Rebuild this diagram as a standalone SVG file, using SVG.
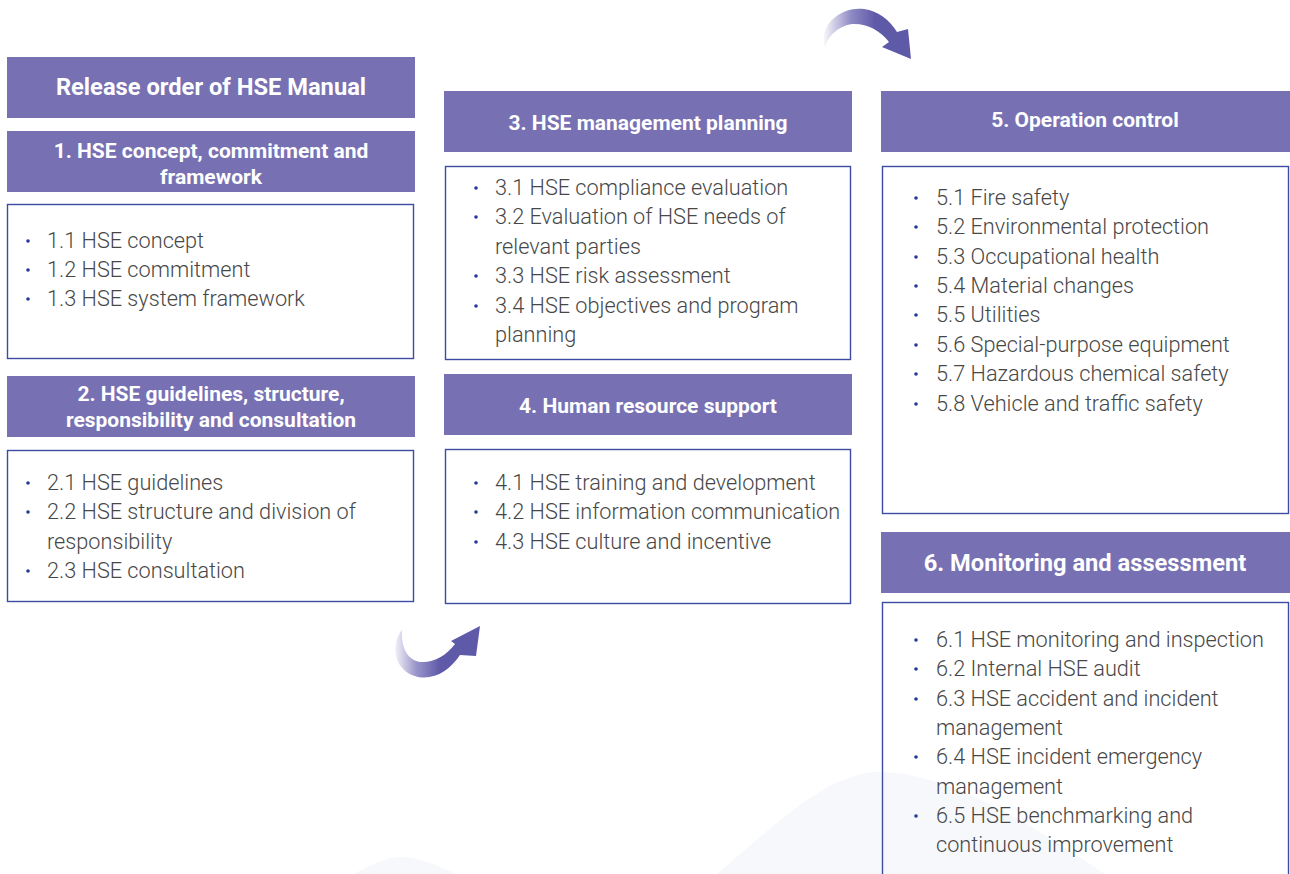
<svg xmlns="http://www.w3.org/2000/svg" width="1290" height="874" viewBox="0 0 1290 874">
  <style>
    .hdr { fill: #7771b3; }
    .box { fill: none; stroke: #3b4ca2; stroke-width: 1.4; }
    .ht { font-family: Roboto, "Liberation Sans", sans-serif; font-weight: 700; fill: #ffffff; text-anchor: middle; font-size: 21px; }
    .ht-lg { font-size: 23.7px; }
    .item { font-family: Roboto, "Liberation Sans", sans-serif; font-weight: 300; fill: #474747; font-size: 21.7px; }
    .dot { fill: #23399a; }
  </style>
  <defs>
    <linearGradient id="arrowTop" gradientUnits="userSpaceOnUse" x1="822" y1="0" x2="875" y2="0">
      <stop offset="0" stop-color="#ffffff"/>
      <stop offset="0.55" stop-color="#8f8ac4"/>
      <stop offset="1" stop-color="#5f5aa8"/>
    </linearGradient>
    <linearGradient id="arrowBottom" gradientUnits="userSpaceOnUse" x1="392" y1="0" x2="440" y2="0">
      <stop offset="0" stop-color="#ffffff"/>
      <stop offset="0.5" stop-color="#9a96ca"/>
      <stop offset="1" stop-color="#5f5aa8"/>
    </linearGradient>
  </defs>

  <rect width="1290" height="874" fill="#ffffff"/>

  <!-- faint background hills -->
  <g id="background" fill="#f6f8fb">
    <path d="M717,874 C780,820 830,772 880,772 C950,772 1040,830 1105,874 Z"/>
    <path d="M354,874 C375,862 390,857 401,857 C418,857 438,866 457,874 Z"/>
  </g>

  <g id="title">
    <rect class="hdr" x="7" y="57" width="408" height="61"/>
    <text class="ht ht-lg" x="211" y="95">Release order of HSE Manual</text>
  </g>

  <g id="node-1">
    <rect class="hdr" x="7" y="131" width="408" height="61"/>
    <text class="ht" x="211" y="158">1. HSE concept, commitment and</text>
    <text class="ht" x="211" y="184">framework</text>
    <rect class="box" x="7.5" y="204.5" width="406" height="154"/>
    <g class="item">
      <text x="47" y="248">1.1 HSE concept</text>
      <text x="47" y="277">1.2 HSE commitment</text>
      <text x="47" y="306">1.3 HSE system framework</text>
    </g>
    <g class="dot">
      <circle cx="28" cy="241" r="1.8"/>
      <circle cx="28" cy="270" r="1.8"/>
      <circle cx="28" cy="299" r="1.8"/>
    </g>
  </g>

  <g id="node-2">
    <rect class="hdr" x="7" y="376" width="408" height="61"/>
    <text class="ht" x="211" y="401">2. HSE guidelines, structure,</text>
    <text class="ht" x="211" y="427">responsibility and consultation</text>
    <rect class="box" x="7.5" y="450.5" width="406" height="151"/>
    <g class="item">
      <text x="47" y="490">2.1 HSE guidelines</text>
      <text x="47" y="519">2.2 HSE structure and division of</text>
      <text x="47" y="549">responsibility</text>
      <text x="47" y="578">2.3 HSE consultation</text>
    </g>
    <g class="dot">
      <circle cx="28" cy="483" r="1.8"/>
      <circle cx="28" cy="512" r="1.8"/>
      <circle cx="28" cy="571" r="1.8"/>
    </g>
  </g>

  <g id="node-3">
    <rect class="hdr" x="444" y="91" width="408" height="61"/>
    <text class="ht" x="648" y="130">3. HSE management planning</text>
    <rect class="box" x="445.5" y="166.5" width="405" height="193"/>
    <g class="item">
      <text x="495" y="195">3.1 HSE compliance evaluation</text>
      <text x="495" y="224">3.2 Evaluation of HSE needs of</text>
      <text x="495" y="254">relevant parties</text>
      <text x="495" y="283">3.3 HSE risk assessment</text>
      <text x="495" y="313">3.4 HSE objectives and program</text>
      <text x="495" y="342">planning</text>
    </g>
    <g class="dot">
      <circle cx="476" cy="188" r="1.8"/>
      <circle cx="476" cy="217" r="1.8"/>
      <circle cx="476" cy="276" r="1.8"/>
      <circle cx="476" cy="306" r="1.8"/>
    </g>
  </g>

  <g id="node-4">
    <rect class="hdr" x="444" y="374" width="408" height="61"/>
    <text class="ht" x="648" y="413">4. Human resource support</text>
    <rect class="box" x="445.5" y="449.5" width="405" height="154"/>
    <g class="item">
      <text x="495" y="490">4.1 HSE training and development</text>
      <text x="495" y="519">4.2 HSE information communication</text>
      <text x="495" y="549">4.3 HSE culture and incentive</text>
    </g>
    <g class="dot">
      <circle cx="476" cy="483" r="1.8"/>
      <circle cx="476" cy="512" r="1.8"/>
      <circle cx="476" cy="542" r="1.8"/>
    </g>
  </g>

  <g id="node-5">
    <rect class="hdr" x="881" y="91" width="409" height="61"/>
    <text class="ht" x="1085" y="127">5. Operation control</text>
    <rect class="box" x="882.5" y="166.5" width="406" height="347"/>
    <g class="item">
      <text x="936" y="205">5.1 Fire safety</text>
      <text x="936" y="234">5.2 Environmental protection</text>
      <text x="936" y="264">5.3 Occupational health</text>
      <text x="936" y="293">5.4 Material changes</text>
      <text x="936" y="322">5.5 Utilities</text>
      <text x="936" y="352">5.6 Special-purpose equipment</text>
      <text x="936" y="381">5.7 Hazardous chemical safety</text>
      <text x="936" y="411">5.8 Vehicle and traffic safety</text>
    </g>
    <g class="dot">
      <circle cx="916" cy="198" r="1.8"/>
      <circle cx="916" cy="227" r="1.8"/>
      <circle cx="916" cy="257" r="1.8"/>
      <circle cx="916" cy="286" r="1.8"/>
      <circle cx="916" cy="315" r="1.8"/>
      <circle cx="916" cy="345" r="1.8"/>
      <circle cx="916" cy="374" r="1.8"/>
      <circle cx="916" cy="404" r="1.8"/>
    </g>
  </g>

  <g id="node-6">
    <rect class="hdr" x="881" y="532" width="409" height="61"/>
    <text class="ht ht-lg" x="1085" y="571">6. Monitoring and assessment</text>
    <rect class="box" x="882.5" y="602.5" width="406" height="290"/>
    <g class="item">
      <text x="936" y="647">6.1 HSE monitoring and inspection</text>
      <text x="936" y="676">6.2 Internal HSE audit</text>
      <text x="936" y="706">6.3 HSE accident and incident</text>
      <text x="936" y="735">management</text>
      <text x="936" y="764">6.4 HSE incident emergency</text>
      <text x="936" y="794">management</text>
      <text x="936" y="823">6.5 HSE benchmarking and</text>
      <text x="936" y="852">continuous improvement</text>
    </g>
    <g class="dot">
      <circle cx="916" cy="640" r="1.8"/>
      <circle cx="916" cy="669" r="1.8"/>
      <circle cx="916" cy="699" r="1.8"/>
      <circle cx="916" cy="757" r="1.8"/>
      <circle cx="916" cy="816" r="1.8"/>
    </g>
  </g>

  <!-- curved flow arrows -->
  <g id="connectors">
    <path fill="url(#arrowTop)" d="M825,47 C818,26 840,6 864,9 C878,11 890,20 897,32 L908,29 L911,59 L882,47 L889,42 C880,30 866,23 852,24 C838,26 828,36 825,47 Z"/>
    <path fill="url(#arrowBottom)" d="M402,630 C389,646 395,672 418,677 C435,680 450,670 460,655 L476,656 L480,626 L451,641 L455,644 C446,656 433,663 421,662 C408,661 401,648 402,630 Z"/>
  </g>
</svg>
